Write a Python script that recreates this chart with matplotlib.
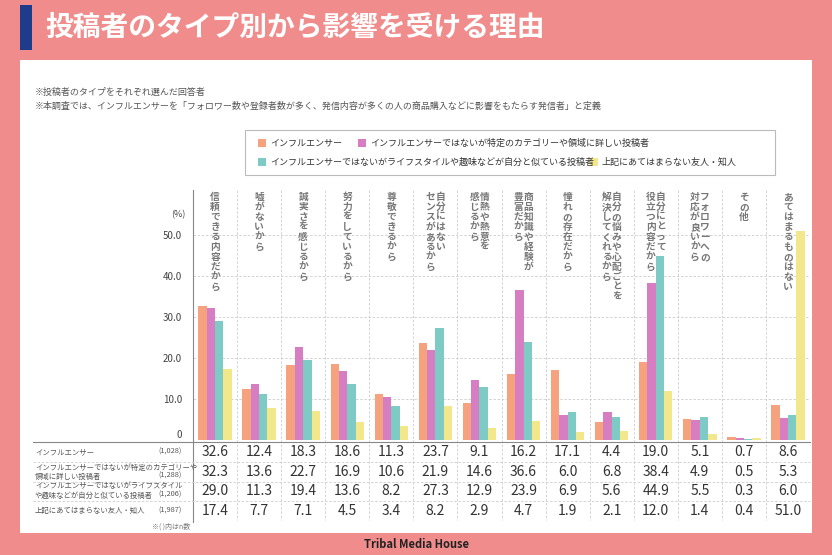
import matplotlib
matplotlib.use("Agg")
import matplotlib.pyplot as plt
import numpy as np
from matplotlib.patches import Rectangle

plt.rcParams['font.family'] = ['Noto Sans CJK JP', 'DejaVu Sans']

categories = [["信頼できる内容だから"], ["嘘がないから"], ["誠実さを感じるから"], ["努力をしているから"],
              ["尊敬できるから"], ["自分にはない", "センスがあるから"], ["情熱や熱意を", "感じるから"],
              ["商品知識や経験が", "豊富だから"], ["憧れの存在だから"], ["自分の悩みや心配ごとを", "解決してくれるから"],
              ["自分にとって", "役立つ内容だから"], ["フォロワーへの", "対応が良いから"], ["その他"], ["あてはまるものはない"]]
series_names = ["インフルエンサー", "インフルエンサーではないが特定のカテゴリーや領域に詳しい投稿者",
                "インフルエンサーではないがライフスタイルや趣味などが自分と似ている投稿者", "上記にあてはまらない友人・知人"]
row_labels = ["インフルエンサー", "インフルエンサーではないが特定のカテゴリーや\n領域に詳しい投稿者",
              "インフルエンサーではないがライフスタイル\nや趣味などが自分と似ている投稿者", "上記にあてはまらない友人・知人"]
row_n = ["(1,028)", "(1,288)", "(1,206)", "(1,987)"]
s1 = [32.6, 12.4, 18.3, 18.6, 11.3, 23.7, 9.1, 16.2, 17.1, 4.4, 19.0, 5.1, 0.7, 8.6]
s2 = [32.3, 13.6, 22.7, 16.9, 10.6, 21.9, 14.6, 36.6, 6.0, 6.8, 38.4, 4.9, 0.5, 5.3]
s3 = [29.0, 11.3, 19.4, 13.6, 8.2, 27.3, 12.9, 23.9, 6.9, 5.6, 44.9, 5.5, 0.3, 6.0]
s4 = [17.4, 7.7, 7.1, 4.5, 3.4, 8.2, 2.9, 4.7, 1.9, 2.1, 12.0, 1.4, 0.4, 51.0]
series = [s1, s2, s3, s4]
colors = ["#F6A27F", "#D77DC2", "#7ECBC6", "#F2E78A"]

W, H = 832, 555
fig = plt.figure(figsize=(W/100, H/100), dpi=100)
fig.patch.set_facecolor("#F08D8C")
def fx(x): return x / W
def fy(y): return 1 - y / H

fig.patches.append(Rectangle((fx(20), fy(533)), (812-20)/W, (533-60)/H, transform=fig.transFigure,
                             facecolor="white", edgecolor="none", zorder=-5))
fig.patches.append(Rectangle((fx(20), fy(50)), 12/W, 45/H, transform=fig.transFigure,
                             facecolor="#1F3C8C", edgecolor="none", zorder=-4))
fig.text(fx(45), fy(28), "投稿者のタイプ別から影響を受ける理由", color="white", fontsize=20,
         fontweight="bold", va="center", ha="left")
fig.text(fx(35), fy(92), "※投稿者のタイプをそれぞれ選んだ回答者", fontsize=6.5, color="#555555", va="center")
fig.text(fx(35), fy(106), "※本調査では、インフルエンサーを「フォロワー数や登録者数が多く、発信内容が多くの人の商品購入などに影響をもたらす発信者」と定義",
         fontsize=6.5, color="#555555", va="center")
fig.text(0.5, fy(545), "Tribal Media House", fontsize=8, fontweight="bold", color="#222222", ha="center", va="center")

fig.patches.append(Rectangle((fx(245), fy(175)), 530/W, 45/H, transform=fig.transFigure,
                             facecolor="white", edgecolor="#BBBBBB", lw=0.8, zorder=-3))
leg_pos = [(258, 143), (358, 143), (258, 162), (590, 162)]
for (x, y), c, n in zip(leg_pos, colors, series_names):
    fig.patches.append(Rectangle((fx(x), fy(y + 4)), 8/W, 8/H, transform=fig.transFigure, facecolor=c,
                                 edgecolor="none", zorder=-2))
    fig.text(fx(x + 12), fy(y), n, fontsize=6.5, color="#333333", va="center")

L, R, B, T = 193, 810, 440, 185
SC = 4.1
ax = fig.add_axes([fx(L), fy(B), (R-L)/W, (B-T)/H])
ax.set_zorder(1)
ncat = len(categories)
ax.set_xlim(0, ncat)
ax.set_ylim(0, (B-T)/SC)
x = np.arange(ncat)
bw = 0.19
for i, (s, c) in enumerate(zip(series, colors)):
    ax.bar(x + 0.5 + (i - 1.5) * bw, s, width=bw, color=c, zorder=3)
for sp in ["top", "right", "bottom", "left"]:
    ax.spines[sp].set_visible(False)
ax.set_xticks([])
ax.set_yticks([1.5, 10, 20, 30, 40, 50])
ax.set_yticklabels(["0", "10.0", "20.0", "30.0", "40.0", "50.0"], fontsize=7, color="#444444")
ax.tick_params(axis="y", length=0, pad=8)
for v in [10, 20, 30, 40, 50]:
    ax.axhline(v, color="#CCCCCC", ls=(0, (3, 2)), lw=0.6, zorder=1)
ax.set_facecolor("none")
fig.text(fx(178), fy(215), "(%)", fontsize=6.5, color="#444444", ha="center", va="center")

cw = (R - L) / ncat
for i in range(1, ncat):
    xx = L + cw * i
    fig.lines.append(plt.Line2D([fx(xx), fx(xx)], [fy(190), fy(520)], transform=fig.transFigure,
                                color="#CCCCCC", lw=0.6, ls=(0, (3, 2)), zorder=0))
for i, lab in enumerate(categories):
    cx = L + cw * (i + 0.5)
    n = len(lab)
    for j, col in enumerate(lab):
        off = (n - 1) / 2 * 10 - j * 10
        fig.text(fx(cx + off), fy(192), "\n".join(col), fontsize=7, fontweight="bold", color="#777777",
                 ha="center", va="top", linespacing=1.0)

fig.lines.append(plt.Line2D([fx(L), fx(L)], [fy(190), fy(522)], transform=fig.transFigure, color="#888888", lw=0.8, zorder=2))
fig.lines.append(plt.Line2D([fx(33), fx(810)], [fy(442), fy(442)], transform=fig.transFigure, color="#888888", lw=0.8, zorder=2))
row_y = [452, 472, 491, 511]
for k, ry in enumerate(row_y):
    lab = row_labels[k]
    two = "\n" in lab
    fig.text(fx(35), fy(ry), lab, fontsize=5.3, color="#555555", va="center", linespacing=1.2)
    fig.text(fx(182), fy(ry + (4 if two else 0)), row_n[k], fontsize=5.3, color="#555555", va="center", ha="right")
    for i in range(ncat):
        cx = L + cw * (i + 0.5)
        fig.text(fx(cx), fy(ry), f"{series[k][i]:.1f}", fontsize=10, color="#333333", ha="center", va="center")
    if k < 3:
        yy = (ry + row_y[k + 1]) / 2
        fig.lines.append(plt.Line2D([fx(33), fx(810)], [fy(yy), fy(yy)], transform=fig.transFigure,
                                    color="#CCCCCC", lw=0.6, ls=(0, (3, 2))))
fig.text(fx(190), fy(527), "※( )内はn数", fontsize=5, color="#777777", ha="right", va="center")

fig.savefig("out.png", dpi=100, facecolor=fig.get_facecolor())
